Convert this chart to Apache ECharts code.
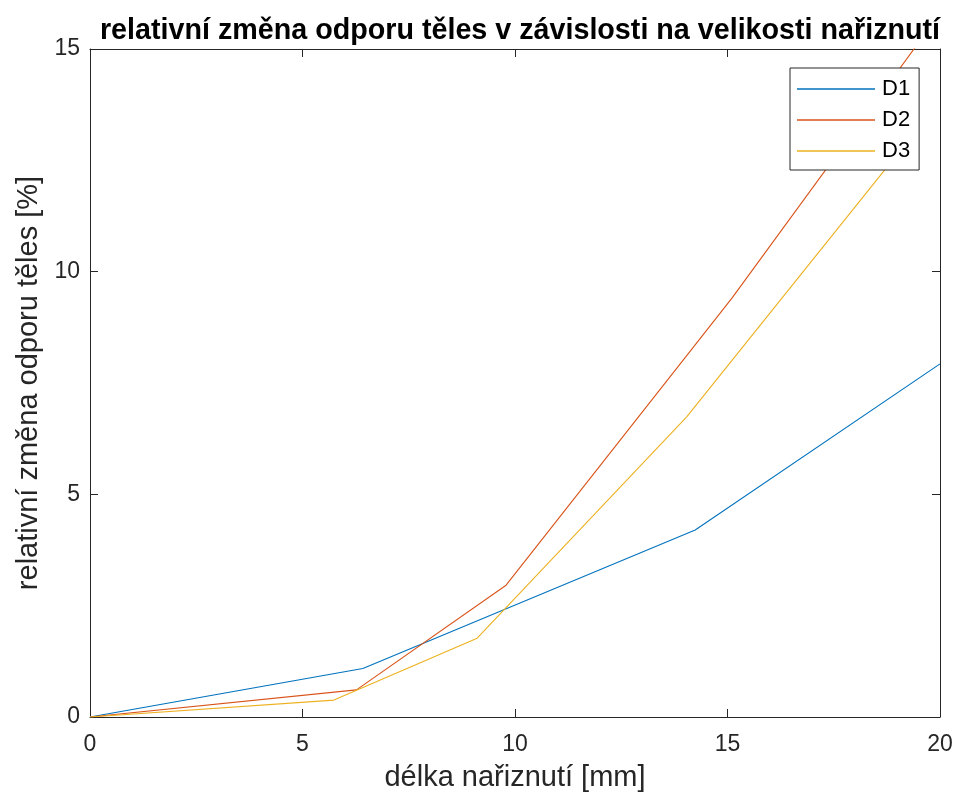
<!DOCTYPE html>
<html>
<head>
<meta charset="utf-8">
<script src="https://cdn.jsdelivr.net/npm/echarts@6/dist/echarts.min.js"></script>
<style>html,body{margin:0;padding:0;background:#fff}#c{width:960px;height:800px}</style>
</head>
<body>
<div id="c"></div>
<script>
const seriesNames = ['D1', 'D2', 'D3'];
const d1X = [0, 6.42, 14.24, 20];
const d1Y = [0, 1.09, 4.2, 7.93];
const d2X = [0, 6.27, 9.79, 15.1, 20];
const d2Y = [0, 0.61, 2.96, 9.4, 15.8];
const d3X = [0, 5.74, 9.11, 14.04, 19.3];
const d3Y = [0, 0.38, 1.77, 6.74, 13.0];
const xTicks = [0, 5, 10, 15, 20];
const yTicks = [0, 5, 10, 15];
const titleText = 'relativní změna odporu těles v závislosti na velikosti nařiznutí';
const xLabel = 'délka nařiznutí [mm]';
const yLabel = 'relativní změna odporu těles [%]';

const colors = ['#0072BD', '#D95319', '#EDB120'];
const font = 'Liberation Sans, Arial, Helvetica, sans-serif';
const axisCol = '#262626';
const pairs = (xs, ys) => xs.map((x, i) => [x, ys[i]]);
const allX = [d1X, d2X, d3X];
const allY = [d1Y, d2Y, d3Y];

const chart = echarts.init(document.getElementById('c'), null, {renderer: 'canvas'});
const axisCommon = {
  axisLine: {show: true, onZero: false, lineStyle: {color: axisCol, width: 1}},
  axisTick: {show: true, inside: true, length: 8, lineStyle: {color: axisCol, width: 1}},
  splitLine: {show: false}
};
chart.setOption({
  animation: false,
  backgroundColor: '#fff',
  title: {
    text: titleText,
    left: 515, textAlign: 'center', top: 12,
    textStyle: {fontFamily: font, fontSize: 28.7, fontWeight: 'bold', color: '#000'}
  },
  grid: {left: 90, right: 20, top: 49, bottom: 83, containLabel: false},
  legend: {
    data: seriesNames,
    orient: 'vertical',
    left: 790, top: 68,
    padding: [10, 9, 8, 7],
    icon: 'rect',
    itemWidth: 78, itemHeight: 1.5, itemGap: 9,
    backgroundColor: '#fff',
    borderColor: axisCol, borderWidth: 1, borderRadius: 0,
    textStyle: {fontFamily: font, fontSize: 22, color: '#000', padding: [0, 0, 0, 2]}
  },
  xAxis: [
    Object.assign({
      type: 'value', position: 'bottom', min: 0, max: 20, interval: 5,
      name: xLabel, nameLocation: 'middle', nameGap: 46,
      nameTextStyle: {fontFamily: font, fontSize: 29, color: axisCol},
      axisLabel: {fontFamily: font, fontSize: 23, color: axisCol, margin: 16,
        formatter: v => xTicks.includes(v) ? String(v) : ''}
    }, axisCommon),
    Object.assign({
      type: 'value', position: 'top', min: 0, max: 20, interval: 5,
      axisLabel: {show: false}
    }, axisCommon)
  ],
  yAxis: [
    Object.assign({
      type: 'value', position: 'left', min: 0, max: 15, interval: 5,
      name: yLabel, nameLocation: 'middle', nameGap: 46, nameRotate: 90,
      nameTextStyle: {fontFamily: font, fontSize: 29, color: axisCol},
      axisLabel: {fontFamily: font, fontSize: 23, color: axisCol, margin: 10,
        formatter: v => yTicks.includes(v) ? String(v) : ''}
    }, axisCommon),
    Object.assign({
      type: 'value', position: 'right', min: 0, max: 15, interval: 5,
      axisLabel: {show: false}
    }, axisCommon)
  ],
  series: seriesNames.map((n, i) => ({
    name: n,
    type: 'line',
    xAxisIndex: 0, yAxisIndex: 0,
    data: pairs(allX[i], allY[i]),
    symbol: 'none',
    clip: true,
    lineStyle: {color: colors[i], width: 1.1},
    itemStyle: {color: colors[i]}
  }))
});
</script>
</body>
</html>
